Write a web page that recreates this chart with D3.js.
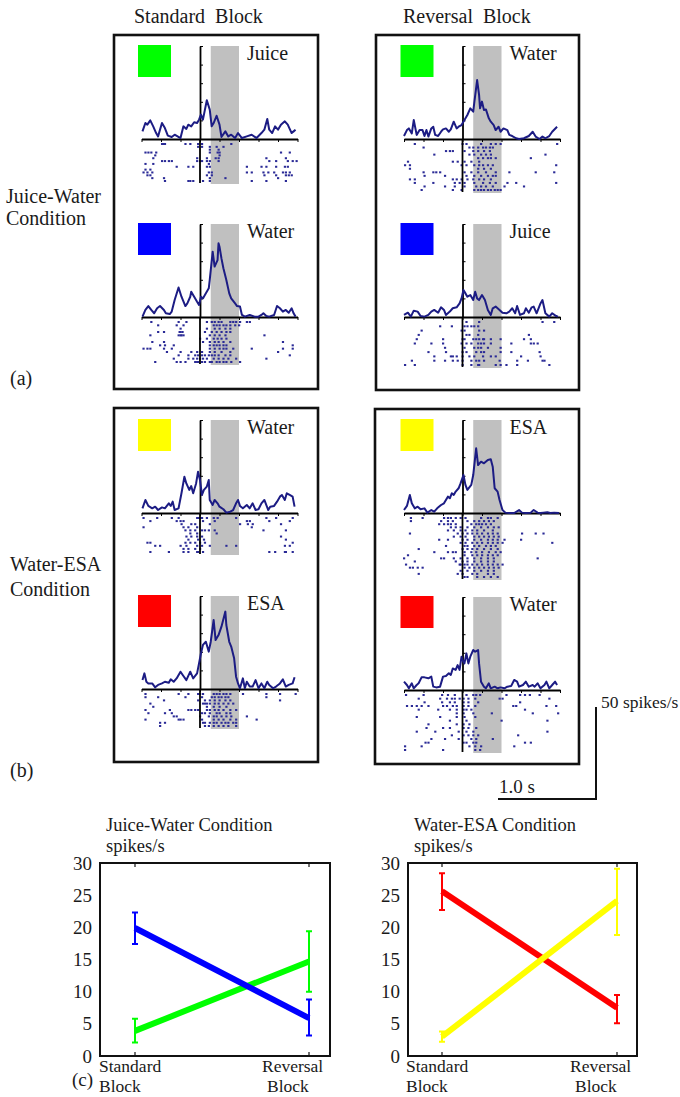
<!DOCTYPE html>
<html>
<head>
<meta charset="utf-8">
<script src="https://cdn.jsdelivr.net/npm/d3@7"></script>
<style>
  body { margin: 0; background: #fff; }
  text { font-family: "Liberation Serif", "Times New Roman", serif; fill: #1a1a1a; }
</style>
</head>
<body>
<svg id="fig" width="680" height="1097"></svg>
<script>
// PSTH curves: [time (s), rate (spikes/s)]
const psthJuiceStd = [[-0.59,4.1],[-0.56,8.6],[-0.54,7.7],[-0.51,10.0],[-0.48,6.8],[-0.45,3.2],[-0.43,1.4],[-0.39,8.6],[-0.36,5.9],[-0.33,1.8],[-0.29,1.1],[-0.26,2.3],[-0.20,0.5],[-0.17,6.8],[-0.14,5.4],[-0.12,7.7],[-0.09,6.8],[-0.06,9.0],[-0.03,8.6],[-0.01,10.4],[0.01,13.1],[0.03,10.4],[0.07,20.8],[0.10,15.8],[0.12,6.8],[0.14,8.6],[0.17,12.5],[0.20,7.7],[0.22,1.1],[0.26,4.1],[0.29,1.4],[0.32,2.3],[0.36,0.5],[0.39,3.2],[0.43,0.5],[0.48,1.4],[0.53,2.3],[0.58,0.5],[0.63,3.2],[0.66,5.0],[0.69,10.8],[0.71,5.0],[0.74,3.2],[0.77,6.8],[0.80,5.0],[0.83,7.7],[0.87,9.5],[0.90,7.7],[0.94,3.2],[0.96,4.1],[0.98,5.0]]
const psthWaterStd = [[-0.59,0.2],[-0.56,3.8],[-0.53,5.9],[-0.50,3.8],[-0.47,2.0],[-0.44,4.7],[-0.41,5.9],[-0.37,3.8],[-0.35,2.0],[-0.31,1.6],[-0.29,2.9],[-0.26,9.1],[-0.22,15.9],[-0.19,10.9],[-0.15,5.9],[-0.13,7.3],[-0.10,10.9],[-0.09,13.6],[-0.06,10.9],[-0.03,8.2],[-0.01,6.5],[0.01,10.9],[0.03,10.0],[0.05,11.8],[0.09,15.4],[0.10,19.9],[0.13,35.1],[0.15,27.1],[0.18,30.6],[0.19,39.6],[0.20,37.8],[0.22,31.5],[0.24,26.2],[0.27,19.9],[0.30,12.7],[0.32,10.0],[0.36,7.3],[0.38,5.9],[0.41,5.6],[0.43,1.1],[0.46,0.2],[0.51,1.1],[0.56,0.2],[0.60,0.2],[0.63,1.1],[0.65,2.0],[0.68,0.5],[0.71,0.2],[0.76,1.1],[0.79,5.9],[0.82,4.7],[0.85,2.9],[0.88,3.8],[0.91,2.3],[0.94,4.7],[0.96,2.0],[0.98,0.2]]
const psthWaterRev = [[-0.60,1.6],[-0.57,4.8],[-0.55,5.7],[-0.52,3.0],[-0.50,10.2],[-0.47,2.2],[-0.44,4.8],[-0.41,4.8],[-0.39,1.6],[-0.37,4.8],[-0.35,1.3],[-0.32,5.7],[-0.30,6.6],[-0.28,2.2],[-0.25,1.6],[-0.22,3.9],[-0.20,5.2],[-0.17,5.7],[-0.14,3.9],[-0.12,5.2],[-0.09,9.3],[-0.06,5.7],[-0.04,6.6],[-0.01,7.5],[0.02,10.2],[0.05,12.9],[0.08,16.5],[0.11,14.7],[0.12,19.2],[0.15,31.7],[0.17,23.7],[0.18,16.5],[0.20,20.1],[0.22,15.6],[0.24,15.9],[0.27,11.1],[0.29,9.3],[0.32,7.5],[0.34,4.8],[0.37,6.6],[0.39,3.9],[0.42,5.7],[0.46,4.8],[0.48,2.2],[0.51,1.6],[0.55,0.4],[0.58,0],[0.63,0.4],[0.68,1.6],[0.72,3.9],[0.75,1.3],[0.79,0],[0.82,1.3],[0.85,0.4],[0.89,1.6],[0.92,3.9],[0.97,6.6]]
const psthJuiceRev = [[-0.60,1.1],[-0.56,2.3],[-0.53,0.2],[-0.50,3.4],[-0.46,2.9],[-0.43,0.5],[-0.39,0.2],[-0.35,1.1],[-0.32,2.9],[-0.29,3.8],[-0.25,2.3],[-0.22,5.2],[-0.19,3.8],[-0.17,1.1],[-0.13,2.9],[-0.10,4.7],[-0.06,5.2],[-0.03,7.3],[-0.01,10.0],[0.01,14.5],[0.03,12.7],[0.05,10.9],[0.08,11.8],[0.11,9.1],[0.13,13.6],[0.15,10.0],[0.17,9.1],[0.20,11.8],[0.23,9.1],[0.26,3.8],[0.29,1.1],[0.31,4.7],[0.34,5.6],[0.38,3.8],[0.41,2.3],[0.45,2.0],[0.48,2.9],[0.51,4.7],[0.54,2.0],[0.56,5.9],[0.59,1.1],[0.63,2.0],[0.65,4.7],[0.68,2.3],[0.71,5.2],[0.73,5.6],[0.76,2.0],[0.80,7.3],[0.82,9.1],[0.85,2.0],[0.89,0.2],[0.92,2.0],[0.96,0.5],[0.98,0.2]]
const psthWater2Std = [[-0.59,2.5],[-0.56,7.0],[-0.53,3.8],[-0.49,2.5],[-0.46,3.4],[-0.43,1.6],[-0.39,3.0],[-0.36,2.5],[-0.32,5.2],[-0.30,3.8],[-0.28,6.1],[-0.26,1.6],[-0.22,2.5],[-0.19,10.6],[-0.16,19.5],[-0.14,15.9],[-0.11,12.4],[-0.09,14.5],[-0.07,10.6],[-0.04,15.9],[-0.02,22.2],[0,17.7],[0.02,9.7],[0.04,12.4],[0.07,14.2],[0.09,17.7],[0.10,7.0],[0.13,4.3],[0.15,7.0],[0.18,5.2],[0.20,3.4],[0.24,2.0],[0.27,0.2],[0.31,0.7],[0.34,1.6],[0.37,5.2],[0.39,7.0],[0.41,3.8],[0.44,2.5],[0.48,4.3],[0.51,2.5],[0.54,5.2],[0.57,1.6],[0.60,2.0],[0.63,5.2],[0.66,7.0],[0.70,1.6],[0.72,3.4],[0.76,3.8],[0.79,6.1],[0.82,8.8],[0.84,9.7],[0.87,7.0],[0.89,10.6],[0.92,9.7],[0.95,8.8],[0.97,3.4]]
const psthEsaStd = [[-0.59,4.8],[-0.57,8.4],[-0.55,3.9],[-0.53,3.0],[-0.49,3.0],[-0.46,0.9],[-0.43,2.2],[-0.39,3.0],[-0.36,3.9],[-0.32,3.4],[-0.30,5.2],[-0.27,3.9],[-0.24,5.7],[-0.20,9.3],[-0.17,7.0],[-0.14,4.8],[-0.10,9.3],[-0.07,5.7],[-0.03,8.4],[-0.01,13.8],[0.01,19.2],[0.03,23.7],[0.06,25.4],[0.09,20.1],[0.11,25.4],[0.14,37.1],[0.16,26.3],[0.19,29.0],[0.22,33.5],[0.26,41.6],[0.27,34.4],[0.30,25.4],[0.32,22.8],[0.35,16.5],[0.37,6.6],[0.39,3.0],[0.41,0.4],[0.44,5.7],[0.46,0.4],[0.48,3.9],[0.51,1.3],[0.54,1.3],[0.57,4.8],[0.60,0.4],[0.63,3.0],[0.66,0.4],[0.69,3.9],[0.71,2.2],[0.75,0.4],[0.78,1.3],[0.82,3.0],[0.85,5.2],[0.88,1.3],[0.91,2.2],[0.95,3.0],[0.97,6.3]]
const psthEsaRev = [[-0.60,1.6],[-0.57,3.8],[-0.54,9.7],[-0.52,5.2],[-0.49,2.5],[-0.46,3.4],[-0.43,2.0],[-0.39,2.5],[-0.36,0.2],[-0.32,1.6],[-0.29,0.7],[-0.26,2.5],[-0.22,4.3],[-0.19,5.2],[-0.15,8.8],[-0.13,7.9],[-0.11,10.6],[-0.09,9.7],[-0.07,11.5],[-0.04,13.3],[-0.02,15.9],[0.01,20.4],[0.03,15.1],[0.05,12.4],[0.09,15.1],[0.11,20.4],[0.14,34.8],[0.16,25.8],[0.19,27.6],[0.22,26.7],[0.26,28.5],[0.29,28.9],[0.31,24.9],[0.33,13.3],[0.36,11.5],[0.38,7.0],[0.41,1.6],[0.44,0.2],[0.48,0],[0.53,0],[0.58,1.6],[0.61,0.2],[0.65,0],[0.70,0.2],[0.73,1.6],[0.77,0.2],[0.80,0],[0.83,0.2],[0.87,0.4],[0.90,0],[0.94,0.2],[0.99,0]]
const psthWater2Rev = [[-0.60,4.5],[-0.57,2.7],[-0.55,0.9],[-0.52,3.6],[-0.50,0.9],[-0.47,2.7],[-0.45,3.6],[-0.42,6.8],[-0.39,6.8],[-0.35,6.3],[-0.32,7.2],[-0.30,1.8],[-0.27,1.4],[-0.23,1.8],[-0.20,7.2],[-0.17,7.5],[-0.14,9.0],[-0.12,8.1],[-0.10,11.6],[-0.07,10.8],[-0.05,13.4],[-0.03,10.8],[-0.01,17.9],[0,16.1],[0.02,14.3],[0.04,19.7],[0.06,14.3],[0.08,17.9],[0.11,21.5],[0.13,20.6],[0.16,21.5],[0.17,14.3],[0.19,4.5],[0.22,1.8],[0.24,0.9],[0.27,3.6],[0.29,0.9],[0.33,1.8],[0.36,0.9],[0.39,1.4],[0.43,0.9],[0.46,1.8],[0.50,2.2],[0.53,5.4],[0.56,4.5],[0.58,1.8],[0.62,2.7],[0.65,4.5],[0.68,1.8],[0.72,2.7],[0.74,1.8],[0.77,3.6],[0.80,0.9],[0.84,2.7],[0.86,4.5],[0.89,0.9],[0.92,2.7],[0.95,4.5],[0.97,2.7]]

// rasters: one array of spike times (s) per trial, top trial first
const rasterJuiceStd = [
  [-0.39,-0.37,-0.36,-0.15,-0.10,-0.02,0.02,0.32],
  [-0.02,0.02,0.10,0.17,0.24],
  [0.10,0.19],
  [-0.56,-0.53,-0.50,-0.45,0.10,0.18,0.20,0.83,0.92],
  [-0.46,0.20],
  [-0.48,-0.03,0.07,0.16,0.19,0.68,0.88],
  [-0.39,-0.36,-0.32,-0.29,-0.03,0,0.02,0.07,0.10,0.19,0.71,0.78,0.90,0.95,0.99],
  [-0.56,-0.48,0.09],
  [-0.24,-0.12,-0.07,0.07,0.10,0.48,0.63,0.68,0.78,0.87,0.90],
  [-0.56,-0.51],
  [-0.58,-0.54,-0.49,0.09,0.12,0.48,0.53,0.65,0.70,0.76,0.85,0.88,0.92],
  [-0.54,-0.51,0.07,0.12,0.66,0.78,0.88,0.91,0.94],
  [-0.49,-0.37,0.10,0.26,0.80],
  [-0.36,-0.12,-0.10,-0.07,0.03,0.10,0.53,0.68,0.88]
]
const rasterWaterStd = [
  [-0.50,-0.22,-0.14,0.07,0.12,0.15,0.19,0.22,0.31,0.34,0.37,0.41,0.48,0.51],
  [-0.43,-0.24,-0.17,0.14,0.17,0.20,0.24,0.27,0.31,0.36,0.40],
  [-0.20,0.07,0.15,0.20,0.26,0.31],
  [-0.43,-0.37,-0.21,-0.20,-0.18,0.05,0.12,0.17,0.22,0.27,0.31],
  [-0.51,-0.22,-0.20,-0.19,-0.17,0.10,0.15,0.20,0.26,0.66],
  [0,0.07,0.14,0.18,0.22,0.27],
  [-0.49,-0.37,0.03,0.10,0.15,0.19,0.24,0.31,0.85],
  [-0.41,-0.36,-0.27,0.10,0.14,0.17,0.20,0.24,0.27,0.95],
  [-0.58,-0.54,-0.51,-0.37,-0.29,0.10,0.15,0.20,0.24,0.27,0.34,0.53,0.85,0.95],
  [-0.34,-0.20,-0.09,-0.03,0.02,0.10,0.15,0.22,0.31,0.80],
  [-0.22,-0.12,-0.05,-0.02,0.02,0.05,0.09,0.12,0.15,0.19,0.26,0.31,0.92],
  [-0.27,-0.12,-0.07,-0.03,0,0.03,0.07,0.14,0.19,0.24,0.29,0.37,0.68],
  [-0.46,-0.24,-0.20,-0.15,-0.05,-0.03,-0.02,0.02,0.05,0.10,0.12,0.17,0.20,0.24,0.27,0.32,0.41]
]
const rasterWaterRev = [
  [-0.49,0,0.04,0.19,0.29,0.34,0.39,0.97],
  [-0.40,0.07,0.11,0.16,0.21,0.24,0.28,0.31],
  [-0.17,-0.13,-0.10,0.02,0.11,0.16,0.22,0.28],
  [-0.29,0.07,0.12,0.19,0.24,0.29,0.85],
  [0.16,0.21,0.26,0.29,0.34,0.70],
  [-0.56,-0.10,-0.05,0.02,0.09,0.17],
  [-0.59,-0.54,-0.01,0.04,0.12,0.17,0.21,0.26,0.31,0.96],
  [-0.54,0.16,0.22,0.29],
  [-0.40,-0.30,-0.27,-0.23,0.02,0.09,0.16,0.24,0.34,0.48,0.75,0.94],
  [-0.39,-0.18,0.04,0.12,0.19,0.26,0.31,0.34],
  [-0.54,-0.49,-0.10,-0.06,-0.01,0.05,0.11,0.17,0.22,0.29],
  [-0.49,-0.30,-0.08,-0.03,0.02,0.12,0.21,0.28,0.34,0.46,0.55,0.96],
  [-0.39,-0.18,-0.08,0.02,0.14,0.19,0.24,0.31,0.43,0.63],
  [-0.42,-0.10,-0.01,0.12,0.16,0.19,0.22,0.26,0.29,0.33,0.36,0.39]
]
const rasterJuiceRev = [
  [0.04,0.17,0.82,0.94],
  [-0.23,-0.11,0.02,0.05,0.09,0.12,0.16],
  [-0.42,-0.01,0.02,0.17,0.22],
  [-0.45,0.04,0.07,0.16,0.68],
  [-0.47,-0.20,0,0.02,0.11,0.14,0.17,0.21,0.22,0.29,0.39,0.63,0.70],
  [-0.49,-0.32,-0.20,-0.01,0.04,0.09,0.16,0.19,0.22,0.29,0.50,0.70,0.73,0.77],
  [-0.18,0.02,0.12,0.16,0.19,0.26,0.39],
  [-0.35,-0.17,0,0.04,0.14,0.19,0.22,0.39,0.50,0.79],
  [-0.29,-0.12,-0.10,-0.06,0,0.07,0.12,0.21,0.29,0.34,0.60,0.80],
  [-0.52,-0.29,-0.18,-0.10,-0.05,0,0.09,0.14,0.17,0.22,0.38,0.56,0.67,0.82,0.84],
  [-0.59,-0.49,0,0.09,0.16,0.17,0.34,0.39,0.45,0.56,0.89]
]
const rasterWater2Std = [
  [-0.58,-0.44,-0.29,-0.22,-0.03,-0.02,0,0.02,0.07,0.14,0.18,0.37,0.68,0.78,0.95],
  [-0.51,-0.24,-0.20,-0.17,0.03,0.15,0.48,0.51,0.71,0.92],
  [-0.19,-0.09,-0.05,0.10,0.41,0.49,0.54,0.83],
  [-0.58,-0.17,-0.12,-0.03,0.53],
  [-0.15,-0.10,-0.05,0.02,0.05,0.09,0.15,0.65,0.88],
  [-0.10,-0.03,0.17],
  [-0.14,-0.09,-0.03,0.02,0.83],
  [-0.12,-0.02,0.04,0.88],
  [-0.54,-0.51,-0.15,-0.10,-0.05,0,0.05,0.95],
  [-0.46,-0.41,-0.20,-0.14,-0.03,0.02,0.10,0.27,0.37,0.87,0.92],
  [-0.17,-0.12,-0.05,0],
  [-0.51,-0.32,-0.17,-0.12,-0.03,-0.02,0.03,0.71,0.77,0.87,0.88,0.95]
]
const rasterEsaStd = [
  [-0.56,-0.22,-0.12,-0.02,0,0.03,0.14,0.17,0.20,0.24,0.27,0.31,0.44,0.68,0.82,0.98],
  [-0.56,-0.43,-0.15,0.02,0.12,0.15,0.19,0.22,0.26,0.29,0.68],
  [-0.37,-0.02,0.05,0.10,0.15,0.20,0.26,0.31,0.82],
  [-0.51,0.03,0.05,0.07,0.10,0.15,0.19,0.24,0.29,0.34],
  [-0.48,0.07,0.14,0.20,0.27],
  [-0.56,-0.31,-0.12,-0.09,-0.05,-0.02,0.07,0.10,0.15,0.19,0.24,0.31,0.37],
  [-0.53,-0.36,-0.29,0.02,0.05,0.10,0.17,0.20,0.27,0.31],
  [-0.27,-0.24,0,0.09,0.14,0.17,0.22,0.27,0.32,0.48],
  [-0.56,-0.22,-0.20,-0.17,0.02,0.14,0.19,0.24,0.31,0.37,0.58],
  [-0.41,-0.36,0.03,0.05,0.10,0.14,0.17,0.22,0.26,0.29,0.34,0.37],
  [-0.41,0.05,0.09,0.14,0.19,0.24,0.29,0.37]
]
const rasterEsaRev = [
  [-0.53,-0.41,-0.19,-0.15,-0.12,-0.07,-0.02,0.03,0.19,0.26,0.29,0.36],
  [-0.53,-0.22,-0.15,-0.10,0.05,0.12,0.17,0.22,0.27,0.32],
  [-0.24,-0.19,-0.15,-0.12,-0.07,0.09,0.14,0.17,0.20,0.24,0.29],
  [-0.12,-0.07,-0.02,0.05,0.12,0.19,0.26,0.32,0.37],
  [-0.15,-0.09,-0.02,0.03,0.10,0.15,0.22,0.31],
  [-0.54,-0.05,0,0.05,0.10,0.15,0.20,0.26,0.31,0.36,0.61,0.75,0.83],
  [-0.09,-0.02,0.03,0.12,0.17,0.22,0.27,0.32,0.37],
  [-0.24,-0.15,0,0.05,0.12,0.19,0.26,0.31,0.36,0.43,0.60],
  [-0.02,0.03,0.10,0.15,0.20,0.26,0.31,0.36,0.41,0.92],
  [-0.17,0.02,0.05,0.12,0.17,0.24,0.29,0.34],
  [-0.45,0,0.05,0.10,0.15,0.22,0.29,0.36],
  [-0.29,-0.15,-0.10,-0.07,0.02,0.09,0.14,0.20,0.27,0.34,0.39],
  [-0.56,0.02,0.10,0.15,0.20,0.26,0.31,0.36],
  [-0.60,-0.22,-0.19,-0.09,-0.02,0.05,0.12,0.19,0.26,0.32,0.77],
  [-0.49,-0.07,0,0.05,0.12,0.19,0.26,0.32],
  [-0.58,-0.03,-0.02,0.02,0.05,0.10,0.15,0.20,0.26,0.31,0.36,0.41],
  [-0.54,-0.51,-0.46,-0.41,0.02,0.07,0.12,0.17,0.22,0.27,0.32,0.37],
  [-0.02,0.05,0.12,0.19,0.26,0.32],
  [-0.45,-0.05,0,0.10,0.15,0.26,0.32],
  [0.02,0.05,0.15,0.22,0.29,0.36]
]
const rasterWater2Rev = [
  [-0.58,-0.40,-0.21,-0.15,-0.08,0.04,0.11,0.14,0.18,0.45,0.59,0.64,0.69,0.79],
  [-0.45,-0.23,-0.16,-0.11,-0.08,-0.03,0.01,0.06,0.13,0.38,0.41,0.89],
  [-0.39,-0.21,-0.13,-0.08,0.01,0.06,0.16,0.59],
  [-0.57,-0.52,-0.47,-0.42,-0.35,-0.20,-0.16,-0.10,-0.06,0.01,0.06,0.13,0.52,0.55,0.86,0.96],
  [-0.45,-0.25,-0.13,-0.06,0.01,0.04,0.09,0.64],
  [-0.06,0.01,0.11,0.30,0.72,0.98],
  [-0.47,-0.23,-0.06,0.02,0.13],
  [-0.13,0.04,0.40,0.87],
  [-0.35,-0.06,0.01,0.07],
  [-0.37,-0.20,-0.13,0.01,0.06,0.14],
  [-0.47,-0.28,-0.04,0.04,0.11,0.87],
  [-0.11,0.01,0.06,0.11,0.16,0.57],
  [-0.32,-0.18,-0.04,0.09,0.14,0.31],
  [-0.38,-0.35,0.01,0.04,0.11,0.14,0.64,0.70],
  [-0.59,-0.42,0.07,0.13,0.19,0.53],
  [-0.59,-0.20,0.13,0.18]
]

const timeTicks = [-0.6, -0.4, -0.2, 0, 0.2, 0.4, 0.6, 0.8, 1.0]
const rateTicks = [0, 10, 20, 30, 40, 50]
const responseWindow = [0.11, 0.40]

// summary plots (c)
const blocks = ['Standard Block', 'Reversal Block']
const summaryTicks = [0, 5, 10, 15, 20, 25, 30]
const jwGreenMean = [3.9, 14.7], jwGreenLo = [2.1, 10.0], jwGreenHi = [5.8, 19.4]
const jwBlueMean = [19.9, 5.9], jwBlueLo = [17.4, 3.2], jwBlueHi = [22.3, 8.8]
const weRedMean = [25.6, 7.5], weRedLo = [22.7, 5.1], weRedHi = [28.4, 9.5]
const weYellowMean = [3.0, 24.1], weYellowLo = [2.2, 18.8], weYellowHi = [3.8, 29.1]

const GREEN = '#00ff00', BLUE = '#0000ff', RED = '#ff0000', YELLOW = '#ffff00'
const NAVY = '#1c1c84'

const svg = d3.select('#fig')

// ---------- panels (a) and (b) ----------
const colAxisX = [200, 462.5]
const subpanels = [
  { col: 0, top: 46, bottom: 184, color: GREEN, label: 'Juice', psth: psthJuiceStd, raster: rasterJuiceStd },
  { col: 0, top: 224, bottom: 365, color: BLUE, label: 'Water', psth: psthWaterStd, raster: rasterWaterStd },
  { col: 1, top: 46, bottom: 193, color: GREEN, label: 'Water', psth: psthWaterRev, raster: rasterWaterRev },
  { col: 1, top: 224, bottom: 368, color: BLUE, label: 'Juice', psth: psthJuiceRev, raster: rasterJuiceRev },
  { col: 0, top: 420, bottom: 555, color: YELLOW, label: 'Water', psth: psthWater2Std, raster: rasterWater2Std },
  { col: 0, top: 596, bottom: 729, color: RED, label: 'ESA', psth: psthEsaStd, raster: rasterEsaStd },
  { col: 1, top: 420, bottom: 580, color: YELLOW, label: 'ESA', psth: psthEsaRev, raster: rasterEsaRev },
  { col: 1, top: 597, bottom: 753, color: RED, label: 'Water', psth: psthWater2Rev, raster: rasterWater2Rev }
]

const boxes = [[114, 35, 318, 389], [376, 35, 579, 390], [114, 408, 318, 762], [375, 409, 579, 764]]
svg.selectAll('rect.box').data(boxes).enter().append('rect')
  .attr('class', 'box')
  .attr('x', (d) => d[0]).attr('y', (d) => d[1])
  .attr('width', (d) => d[2] - d[0]).attr('height', (d) => d[3] - d[1])
  .attr('fill', 'none').attr('stroke', '#111').attr('stroke-width', 2.6)

subpanels.forEach((p) => {
  const ax = colAxisX[p.col]
  const x = d3.scaleLinear().domain([-0.6, 1.0]).range([ax - 58.5, ax + 97.5])
  const y = d3.scaleLinear().domain([0, 50]).range([p.top + 93, p.top])
  const base = y(0)
  const g = svg.append('g')

  // shaded response window
  g.append('rect')
    .attr('x', x(responseWindow[0])).attr('y', p.top)
    .attr('width', x(responseWindow[1]) - x(responseWindow[0]))
    .attr('height', p.bottom - p.top)
    .attr('fill', '#c0c0c0')

  // colour cue
  g.append('rect')
    .attr('x', ax - 62).attr('y', p.top - 1)
    .attr('width', 33).attr('height', 32)
    .attr('fill', p.color)

  g.append('text')
    .attr('x', ax + 47).attr('y', p.top + 14)
    .attr('font-size', 20)
    .text(p.label)

  // raster
  const n = p.raster.length
  const row = d3.scaleLinear().domain([0, n - 1]).range([base + 5, p.bottom - 3])
  const spikes = p.raster.flatMap((times, i) => times.map((t) => ({ t, i })))
  g.selectAll('rect.spike').data(spikes).enter().append('rect')
    .attr('class', 'spike')
    .attr('x', (d) => x(d.t) - 1).attr('y', (d) => row(d.i) - 1)
    .attr('width', 2.2).attr('height', 2)
    .attr('fill', '#2a2a96')

  // axes
  const xAxis = d3.axisBottom(x).tickValues(timeTicks).tickSizeInner(3).tickSizeOuter(0).tickFormat('')
  const gx = g.append('g').attr('transform', `translate(0,${base})`).call(xAxis)
  gx.select('.domain').attr('stroke', '#000').attr('stroke-width', 2)

  const yAxis = d3.axisRight(y).tickValues(rateTicks).tickSizeInner(3).tickSizeOuter(0).tickFormat('')
  const gy = g.append('g').attr('transform', `translate(${ax},0)`).call(yAxis)
  gy.select('.domain').attr('stroke', '#000').attr('stroke-width', 1.8)
  g.append('line')
    .attr('x1', ax).attr('x2', ax).attr('y1', base).attr('y2', p.bottom - 1)
    .attr('stroke', '#000').attr('stroke-width', 1.8)

  // PSTH
  const line = d3.line().x((d) => x(d[0])).y((d) => y(d[1]))
  g.append('path').datum(p.psth)
    .attr('d', line)
    .attr('fill', 'none').attr('stroke', NAVY)
    .attr('stroke-width', 2).attr('stroke-linejoin', 'round')
})

// headings and side labels
const labels = [
  { x: 134, y: 23, s: 'Standard  Block', size: 20 },
  { x: 403, y: 23, s: 'Reversal  Block', size: 20 },
  { x: 6, y: 203, s: 'Juice-Water', size: 20 },
  { x: 6, y: 225, s: 'Condition', size: 20 },
  { x: 10, y: 385, s: '(a)', size: 20 },
  { x: 10, y: 571, s: 'Water-ESA', size: 20 },
  { x: 10, y: 596, s: 'Condition', size: 20 },
  { x: 10, y: 777, s: '(b)', size: 20 },
  { x: 601, y: 708, s: '50 spikes/s', size: 17.5 },
  { x: 499, y: 793, s: '1.0 s', size: 19 }
]
svg.selectAll('text.lbl').data(labels).enter().append('text')
  .attr('class', 'lbl')
  .attr('x', (d) => d.x).attr('y', (d) => d.y)
  .attr('font-size', (d) => d.size)
  .style('white-space', 'pre')
  .text((d) => d.s)

// scale bar
svg.append('path')
  .attr('d', 'M596,707V799H498')
  .attr('fill', 'none').attr('stroke', '#111').attr('stroke-width', 2)

// ---------- summary plots (c) ----------
const summaries = [
  { left: 100, right: 330, cat: [135, 309], title: 'Juice-Water Condition',
    series: [
      { color: GREEN, mean: jwGreenMean, lo: jwGreenLo, hi: jwGreenHi },
      { color: BLUE, mean: jwBlueMean, lo: jwBlueLo, hi: jwBlueHi }
    ] },
  { left: 408, right: 637, cat: [442, 617], title: 'Water-ESA Condition',
    series: [
      { color: RED, mean: weRedMean, lo: weRedLo, hi: weRedHi },
      { color: YELLOW, mean: weYellowMean, lo: weYellowLo, hi: weYellowHi }
    ] }
]

summaries.forEach((s) => {
  const top = 863, bottom = 1056
  const x = d3.scaleOrdinal().domain(blocks).range(s.cat)
  const y = d3.scaleLinear().domain([0, 30]).range([bottom, top])
  const g = svg.append('g')

  g.append('rect')
    .attr('x', s.left).attr('y', top)
    .attr('width', s.right - s.left).attr('height', bottom - top)
    .attr('fill', 'none').attr('stroke', '#111').attr('stroke-width', 2)

  const yAxis = d3.axisLeft(y).tickValues(summaryTicks).tickSize(0).tickPadding(8)
  const gy = g.append('g').attr('transform', `translate(${s.left},0)`).call(yAxis)
  gy.select('.domain').remove()
  gy.selectAll('text')
    .attr('font-family', '"Liberation Serif", serif')
    .attr('font-size', 19).attr('fill', '#1a1a1a')

  // small category ticks on top and bottom edges
  blocks.forEach((b) => {
    g.append('line').attr('x1', x(b)).attr('x2', x(b)).attr('y1', top).attr('y2', top + 4)
      .attr('stroke', '#111').attr('stroke-width', 1.2)
    g.append('line').attr('x1', x(b)).attr('x2', x(b)).attr('y1', bottom).attr('y2', bottom - 4)
      .attr('stroke', '#111').attr('stroke-width', 1.2)
  })

  const line = d3.line().x((d) => x(d.b)).y((d) => y(d.v))
  s.series.forEach((ser) => {
    const pts = blocks.map((b, i) => ({ b, v: ser.mean[i], lo: ser.lo[i], hi: ser.hi[i] }))
    g.append('path').datum(pts)
      .attr('d', line)
      .attr('fill', 'none').attr('stroke', ser.color).attr('stroke-width', 6)
    pts.forEach((d) => {
      const cx = x(d.b)
      g.append('path')
        .attr('d', `M${cx - 3},${y(d.hi)}H${cx + 3}M${cx},${y(d.hi)}V${y(d.lo)}M${cx - 3},${y(d.lo)}H${cx + 3}`)
        .attr('fill', 'none').attr('stroke', ser.color).attr('stroke-width', 2)
    })
  })

  g.append('text').attr('x', s.left + 6).attr('y', 831).attr('font-size', 18.5).text(s.title)
  g.append('text').attr('x', s.left + 6).attr('y', 852).attr('font-size', 18.5).text('spikes/s')

  const catLabels = [
    { x: s.cat[0] - 36, w: 'Standard', dx: 0 }, { x: s.cat[1] - 47, w: 'Reversal', dx: 5 }
  ]
  catLabels.forEach((c) => {
    g.append('text').attr('x', c.x).attr('y', 1072).attr('font-size', 17.5).text(c.w)
    g.append('text').attr('x', c.x + c.dx).attr('y', 1092).attr('font-size', 17.5).text('Block')
  })
})

svg.append('text').attr('x', 72).attr('y', 1086).attr('font-size', 19).text('(c)')
</script>
</body>
</html>
